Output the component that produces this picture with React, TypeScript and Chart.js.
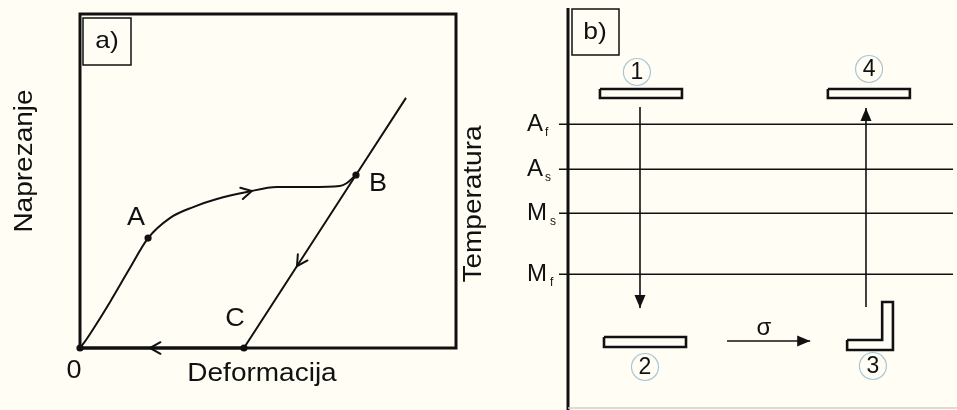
import React, { useEffect, useRef } from 'react';
import { Chart, registerables } from 'chart.js';

Chart.register(...registerables);

const FONT = '"Liberation Sans", Arial, sans-serif';
const INK = '#111111';
const BG = '#fffdf4';

// ---------- Panel a): stress (Naprezanje) vs strain (Deformacija) ----------
const loadingStrain = [0, 0.16, 0.37, 0.8, 1.3, 1.81, 2.39, 3.01, 3.64, 4.44, 5.24, 6.12, 6.91, 7.1, 7.34];
const loadingStress = [0, 0.24, 0.6, 1.38, 2.34, 3.29, 3.89, 4.22, 4.46, 4.67, 4.82, 4.82, 4.85, 4.94, 5.18];
const unloadStrain = [4.36, 7.34, 8.67];
const unloadStress = [0, 5.18, 7.49];
const returnStrain = [4.36, 0];
const returnStress = [0, 0];
const pointNames = ['0', 'A', 'B', 'C'];
const pointStrain = [0, 1.81, 7.34, 4.36];
const pointStress = [0, 3.29, 5.18, 0];
// direction arrows: tip and a point behind the tip
const arrowTipStrain = [4.57, 5.77, 1.86];
const arrowTipStress = [4.7, 2.45, 0];
const arrowFromStrain = [3.64, 7.34, 4.36];
const arrowFromStress = [4.46, 5.18, 0];

// ---------- Panel b): temperature levels and specimen states ----------
const levelNames = ['A', 'A', 'M', 'M'];
const levelSubs = ['f', 's', 's', 'f'];
const levelTemps = [71, 59.75, 48.75, 33.5];

const stateNames = ['1', '2', '3', '4'];
const stateLabelX = [17.9, 20.0, 79.2, 78.2];
const stateLabelT = [84.0, 10.25, 10.5, 84.75];

const specimen1X = [8.3, 29.6, 29.6, 8.3, 8.3];
const specimen1T = [79.75, 79.75, 77.5, 77.5, 79.75];
const specimen2X = [9.35, 30.65, 30.65, 9.35, 9.35];
const specimen2T = [17.75, 17.75, 15.25, 15.25, 17.75];
const specimen3X = [72.5, 81.6, 81.6, 84.4, 84.4, 72.5, 72.5];
const specimen3T = [17.0, 17.0, 26.5, 26.5, 14.5, 14.5, 17.0];
const specimen4X = [67.5, 88.8, 88.8, 67.5, 67.5];
const specimen4T = [79.75, 79.75, 77.5, 77.5, 79.75];

const coolX = [18.7, 18.7];
const coolT = [75.25, 25.0];
const heatX = [77.4, 77.4];
const heatT = [25.25, 75.0];
const stressX = [41.3, 62.9];
const stressT = [16.75, 16.75];
const sigmaX = 50.9;
const sigmaT = 20.0;

const pts = (xs: number[], ys: number[]) => xs.map((x, i) => ({ x, y: ys[i] }));

function drawText(
  ctx: CanvasRenderingContext2D,
  s: string,
  x: number,
  y: number,
  size: number,
  o: { align?: CanvasTextAlign; baseline?: CanvasTextBaseline; rot?: number; sx?: number; color?: string } = {}
) {
  ctx.save();
  ctx.translate(x, y);
  if (o.rot) ctx.rotate(o.rot);
  ctx.scale(o.sx ?? 1, 1);
  ctx.font = `${size}px ${FONT}`;
  ctx.fillStyle = o.color ?? INK;
  ctx.textAlign = o.align ?? 'center';
  ctx.textBaseline = o.baseline ?? 'alphabetic';
  ctx.fillText(s, 0, 0);
  ctx.restore();
}

function chevron(ctx: CanvasRenderingContext2D, tx: number, ty: number, fx: number, fy: number) {
  const a = Math.atan2(ty - fy, tx - fx);
  const len = 12;
  const ang = 0.5;
  ctx.save();
  ctx.strokeStyle = INK;
  ctx.lineWidth = 2;
  ctx.lineCap = 'round';
  ctx.beginPath();
  ctx.moveTo(tx - len * Math.cos(a - ang), ty - len * Math.sin(a - ang));
  ctx.lineTo(tx, ty);
  ctx.lineTo(tx - len * Math.cos(a + ang), ty - len * Math.sin(a + ang));
  ctx.stroke();
  ctx.restore();
}

function filledHead(ctx: CanvasRenderingContext2D, tx: number, ty: number, fx: number, fy: number) {
  const a = Math.atan2(ty - fy, tx - fx);
  const len = 13;
  const hw = 5.5;
  const bx = tx - len * Math.cos(a);
  const by = ty - len * Math.sin(a);
  ctx.save();
  ctx.fillStyle = INK;
  ctx.beginPath();
  ctx.moveTo(tx, ty);
  ctx.lineTo(bx + hw * Math.sin(a), by - hw * Math.cos(a));
  ctx.lineTo(bx - hw * Math.sin(a), by + hw * Math.cos(a));
  ctx.closePath();
  ctx.fill();
  ctx.restore();
}

const labelOffsets: Record<string, [number, number]> = {
  '0': [-6, 23],
  A: [-12, -20],
  B: [22, 9],
  C: [-9, -29],
};

const panelAPlugin = {
  id: 'panelA',
  beforeDatasetsDraw(chart: any) {
    const { ctx, chartArea: ca } = chart;
    ctx.save();
    ctx.strokeStyle = INK;
    ctx.lineWidth = 3;
    ctx.strokeRect(ca.left, ca.top, ca.right - ca.left, ca.bottom - ca.top);
    ctx.lineWidth = 1.5;
    ctx.strokeRect(ca.left + 3, ca.top + 4, 48, 47);
    ctx.restore();
    drawText(ctx, 'a)', ca.left + 27, ca.top + 27, 24, { baseline: 'middle', sx: 1.1 });
  },
  afterDatasetsDraw(chart: any) {
    const { ctx, chartArea: ca } = chart;
    const xs = chart.scales.x;
    const ys = chart.scales.y;
    for (let i = 0; i < arrowTipStrain.length; i++) {
      chevron(
        ctx,
        xs.getPixelForValue(arrowTipStrain[i]),
        ys.getPixelForValue(arrowTipStress[i]),
        xs.getPixelForValue(arrowFromStrain[i]),
        ys.getPixelForValue(arrowFromStress[i])
      );
    }
    pointNames.forEach((n, i) => {
      const [dx, dy] = labelOffsets[n];
      drawText(ctx, n, xs.getPixelForValue(pointStrain[i]) + dx, ys.getPixelForValue(pointStress[i]) + dy, 25, {
        baseline: 'middle',
        sx: 1.08,
      });
    });
    drawText(ctx, 'Deformacija', (ca.left + ca.right) / 2 - 6, ca.bottom + 33, 25, { sx: 1.12 });
    drawText(ctx, 'Naprezanje', 32, (ca.top + ca.bottom) / 2 - 20, 25, { rot: -Math.PI / 2, sx: 1.12 });
  },
};

const panelBPlugin = {
  id: 'panelB',
  beforeDatasetsDraw(chart: any) {
    const { ctx, chartArea: ca, width, height } = chart;
    const ys = chart.scales.y;
    ctx.save();
    ctx.strokeStyle = INK;
    // temperature level lines
    ctx.lineWidth = 1.5;
    levelTemps.forEach((t) => {
      const y = Math.round(ys.getPixelForValue(t)) + 0.25;
      ctx.beginPath();
      ctx.moveTo(ca.left - 9, y);
      ctx.lineTo(ca.right, y);
      ctx.stroke();
    });
    // temperature axis
    ctx.lineWidth = 3;
    ctx.beginPath();
    ctx.moveTo(ca.left, ca.top);
    ctx.lineTo(ca.left, height);
    ctx.stroke();
    // faint bottom frame
    ctx.strokeStyle = '#d9cbc4';
    ctx.lineWidth = 1.5;
    ctx.beginPath();
    ctx.moveTo(ca.left, ca.bottom);
    ctx.lineTo(width, ca.bottom);
    ctx.stroke();
    // b) box
    ctx.strokeStyle = INK;
    ctx.lineWidth = 1.5;
    ctx.strokeRect(ca.left + 4, ca.top + 1, 47, 46);
    ctx.restore();
    drawText(ctx, 'b)', ca.left + 27, ca.top + 24, 24, { baseline: 'middle', sx: 1.1 });
    // level labels
    levelTemps.forEach((t, i) => {
      const y = ys.getPixelForValue(t);
      const isM = levelNames[i] === 'M';
      const right = ca.left - (isM ? 21 : 25);
      drawText(ctx, levelNames[i], right, y + 7, 24, { align: 'right' });
      drawText(ctx, levelSubs[i], right + (isM ? 3 : 2), y + 12, 12, { align: 'left' });
    });
    drawText(ctx, 'Temperatura', ca.left - 87, (ca.top + ca.bottom) / 2 - 4, 25, { rot: -Math.PI / 2, sx: 1.12 });
  },
  afterDatasetsDraw(chart: any) {
    const { ctx } = chart;
    const xs = chart.scales.x;
    const ys = chart.scales.y;
    const head = (X: number[], T: number[]) =>
      filledHead(
        ctx,
        xs.getPixelForValue(X[1]),
        ys.getPixelForValue(T[1]),
        xs.getPixelForValue(X[0]),
        ys.getPixelForValue(T[0])
      );
    head(coolX, coolT);
    head(heatX, heatT);
    head(stressX, stressT);
    stateNames.forEach((n, i) => {
      const cx = xs.getPixelForValue(stateLabelX[i]);
      const cy = ys.getPixelForValue(stateLabelT[i]);
      ctx.save();
      ctx.strokeStyle = '#a9c6d6';
      ctx.lineWidth = 1.2;
      ctx.beginPath();
      ctx.arc(cx, cy, 13.5, 0, Math.PI * 2);
      ctx.stroke();
      ctx.restore();
      drawText(ctx, n, cx, cy + 1, 23, { baseline: 'middle' });
    });
    drawText(ctx, 'σ', xs.getPixelForValue(sigmaX), ys.getPixelForValue(sigmaT), 24, { baseline: 'middle' });
  },
};

const lineDs = (data: { x: number; y: number }[], width: number, extra: any = {}) => ({
  data,
  showLine: true,
  borderColor: INK,
  borderWidth: width,
  pointRadius: 0,
  fill: false,
  clip: false,
  ...extra,
});

export default function App() {
  const leftRef = useRef<HTMLCanvasElement>(null);
  const rightRef = useRef<HTMLCanvasElement>(null);

  useEffect(() => {
    const left = new Chart(leftRef.current as HTMLCanvasElement, {
      type: 'scatter',
      data: {
        datasets: [
          lineDs(pts(loadingStrain, loadingStress), 2, { cubicInterpolationMode: 'monotone' }),
          lineDs(pts(unloadStrain, unloadStress), 2),
          lineDs(pts(returnStrain, returnStress), 3),
          {
            data: pts(pointStrain, pointStress),
            showLine: false,
            pointRadius: 3.6,
            pointBackgroundColor: INK,
            pointBorderWidth: 0,
            clip: false,
          },
        ] as any,
      },
      options: {
        responsive: false,
        animation: false,
        devicePixelRatio: 1,
        events: [],
        layout: { padding: { left: 80, top: 14, right: 3, bottom: 62 } },
        plugins: { legend: { display: false }, tooltip: { enabled: false } },
        scales: {
          x: { type: 'linear', min: 0, max: 10, display: false },
          y: { type: 'linear', min: 0, max: 10, display: false },
        },
      } as any,
      plugins: [panelAPlugin],
    });

    const right = new Chart(rightRef.current as HTMLCanvasElement, {
      type: 'scatter',
      data: {
        datasets: [
          lineDs(pts(specimen1X, specimen1T), 2.6),
          lineDs(pts(specimen2X, specimen2T), 2.6),
          lineDs(pts(specimen3X, specimen3T), 2.6),
          lineDs(pts(specimen4X, specimen4T), 2.6),
          lineDs(pts(coolX, coolT), 1.6),
          lineDs(pts(heatX, heatT), 1.6),
          lineDs(pts(stressX, stressT), 1.6),
        ] as any,
      },
      options: {
        responsive: false,
        animation: false,
        devicePixelRatio: 1,
        events: [],
        layout: { padding: { left: 108, top: 8, right: 4, bottom: 2 } },
        plugins: { legend: { display: false }, tooltip: { enabled: false } },
        scales: {
          x: { type: 'linear', min: 0, max: 100, display: false },
          y: { type: 'linear', min: 0, max: 100, display: false },
        },
      } as any,
      plugins: [panelBPlugin],
    });

    return () => {
      left.destroy();
      right.destroy();
    };
  }, []);

  return (
    <div
      style={{
        position: 'fixed',
        left: 0,
        top: 0,
        width: 957,
        height: 410,
        background: BG,
        overflow: 'hidden',
      }}
    >
      <canvas
        ref={leftRef}
        width={460}
        height={410}
        style={{ position: 'absolute', left: 0, top: 0, width: 460, height: 410 }}
      />
      <canvas
        ref={rightRef}
        width={497}
        height={410}
        style={{ position: 'absolute', left: 460, top: 0, width: 497, height: 410 }}
      />
    </div>
  );
}
